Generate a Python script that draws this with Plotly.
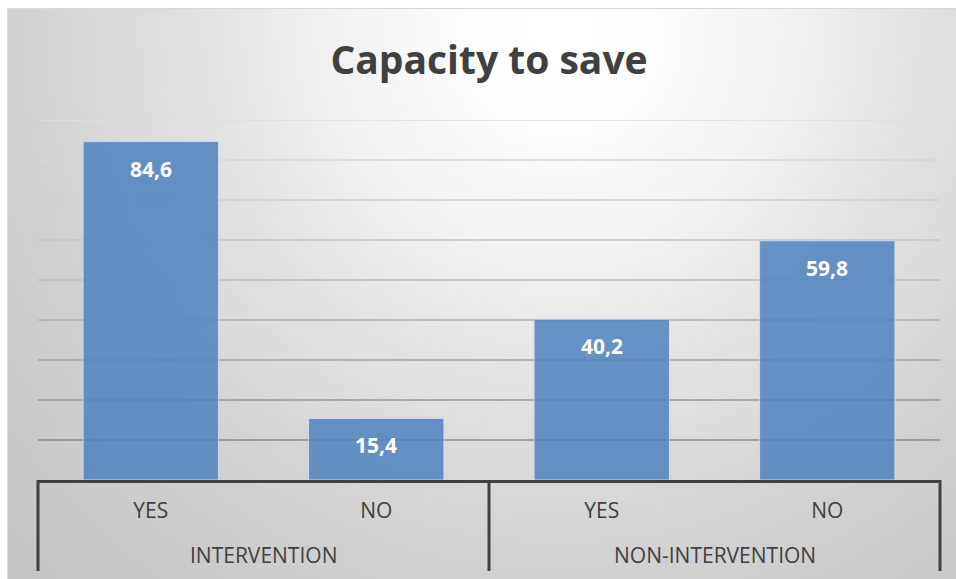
import plotly.graph_objects as go

# ---------------- data ----------------
groups = ["INTERVENTION", "INTERVENTION", "NON-INTERVENTION", "NON-INTERVENTION"]
answers = ["YES", "NO", "YES", "NO"]
values = [84.6, 15.4, 40.2, 59.8]
title_text = "Capacity to save"
y_max = 90
y_step = 10

# ---------------- layout constants (pixels) ----------------
W, H = 956, 579
FRAME_L, FRAME_T = 8, 9
PLOT_L, PLOT_R, PLOT_T, PLOT_B = 38, 940, 120, 480
DIV_BOTTOM = 571
GROUP_LABEL_Y = 555
TITLE_X, TITLE_Y = 489, 60
FONT = "Open Sans"
TEXT_COLOR = "#404040"

def px(x):
    return x / W

def py(y):
    return 1 - y / H

positions = list(range(len(values)))
value_labels = [f"{v:.1f}".replace(".", ",") for v in values]

group_names = []
for g in groups:
    if g not in group_names:
        group_names.append(g)
group_members = {g: [i for i, gg in enumerate(groups) if gg == g] for g in group_names}
group_centers = [sum(m) / len(m) for m in group_members.values()]
x_lo, x_hi = positions[0] - 0.5, positions[-1] + 0.5
boundaries = [x_lo] + [max(group_members[g]) + 0.5 for g in group_names]

def x2_to_paper(v):
    d0, d1 = px(PLOT_L), px(PLOT_R)
    return d0 + (v - x_lo) / (x_hi - x_lo) * (d1 - d0)

grid_values = list(range(y_step, y_max + 1, y_step))
grid_colors = ["#8e8e8e", "#9a9a9a", "#a6a6a6", "#b1b1b1", "#bcbcbc",
               "#c6c6c6", "#cfcfcf", "#d7d7d7", "#dedede"]

fig = go.Figure()

# background radial gradient (decoration)
cx, cy, R = 560, 30, 800
fig.add_trace(go.Scatter(
    x=[cx - R, cx + R, cx + R, cx - R, cx - R],
    y=[cy - R, cy - R, cy + R, cy + R, cy - R],
    fill="toself", mode="none",
    fillgradient=dict(type="radial", colorscale=[
        [0.0, "#ffffff"], [0.12, "#fdfdfd"], [0.31, "#efefef"],
        [0.44, "#e3e3e3"], [0.56, "#dadada"], [0.66, "#d2d2d2"],
        [0.85, "#c9c9c9"], [1.0, "#c2c2c2"]]),
    hoverinfo="skip", showlegend=False, xaxis="x", yaxis="y",
))

# bars
fig.add_trace(go.Bar(
    x=positions, y=values, width=0.6,
    marker=dict(color="rgba(79,129,189,0.85)",
                line=dict(color="rgba(205,222,242,0.9)", width=1)),
    hoverinfo="skip", showlegend=False, xaxis="x2", yaxis="y2",
))

shapes = []
for v, c in zip(grid_values, grid_colors):
    shapes.append(dict(type="line", xref="x2", yref="y2", x0=x_lo, x1=x_hi,
                       y0=v, y1=v, line=dict(color=c, width=1.3), layer="below"))
for b in boundaries:
    xp = x2_to_paper(b)
    shapes.append(dict(type="line", xref="paper", yref="paper", x0=xp, x1=xp,
                       y0=py(PLOT_B), y1=py(DIV_BOTTOM),
                       line=dict(color=TEXT_COLOR, width=3)))

annotations = []
for x, v, t in zip(positions, values, value_labels):
    annotations.append(dict(xref="x2", yref="y2", x=x, y=v, text=f"<b>{t}</b>",
                            showarrow=False, yanchor="top", yshift=-11,
                            font=dict(family=FONT, size=21, color="white")))
for gc, g in zip(group_centers, group_names):
    annotations.append(dict(xref="x2", yref="paper", x=gc, y=py(GROUP_LABEL_Y),
                            text=g, showarrow=False, yanchor="middle",
                            font=dict(family=FONT, size=21, color=TEXT_COLOR)))

fig.update_layout(
    width=W, height=H,
    margin=dict(l=0, r=0, t=0, b=0),
    paper_bgcolor="white", plot_bgcolor="rgba(0,0,0,0)",
    showlegend=False,
    title=dict(text=f"<b>{title_text}</b>", x=px(TITLE_X), xanchor="center",
               y=py(TITLE_Y), yanchor="middle", yref="container",
               font=dict(family=FONT, size=39, color=TEXT_COLOR)),
    xaxis=dict(domain=[px(FRAME_L), 1], range=[FRAME_L, W], showgrid=False,
               zeroline=False, showticklabels=False, ticks="", showline=True,
               mirror=True, linecolor="#d9d9d9", linewidth=1, fixedrange=True),
    yaxis=dict(domain=[0, py(FRAME_T)], range=[H, FRAME_T], showgrid=False,
               zeroline=False, showticklabels=False, ticks="", showline=True,
               mirror=True, linecolor="#d9d9d9", linewidth=1, fixedrange=True),
    xaxis2=dict(domain=[px(PLOT_L), px(PLOT_R)], range=[x_lo, x_hi], anchor="y2",
                tickmode="array", tickvals=positions, ticktext=answers,
                tickfont=dict(family=FONT, size=21, color=TEXT_COLOR),
                ticks="", ticklabelstandoff=10,
                showline=True, linecolor=TEXT_COLOR, linewidth=3,
                showgrid=False, zeroline=False),
    yaxis2=dict(domain=[py(PLOT_B), py(PLOT_T)], range=[0, y_max], anchor="x2",
                showgrid=False, showticklabels=False, zeroline=False,
                showline=False, ticks=""),
    shapes=shapes,
    annotations=annotations,
    font=dict(family=FONT),
)

fig.write_html("out.html")
